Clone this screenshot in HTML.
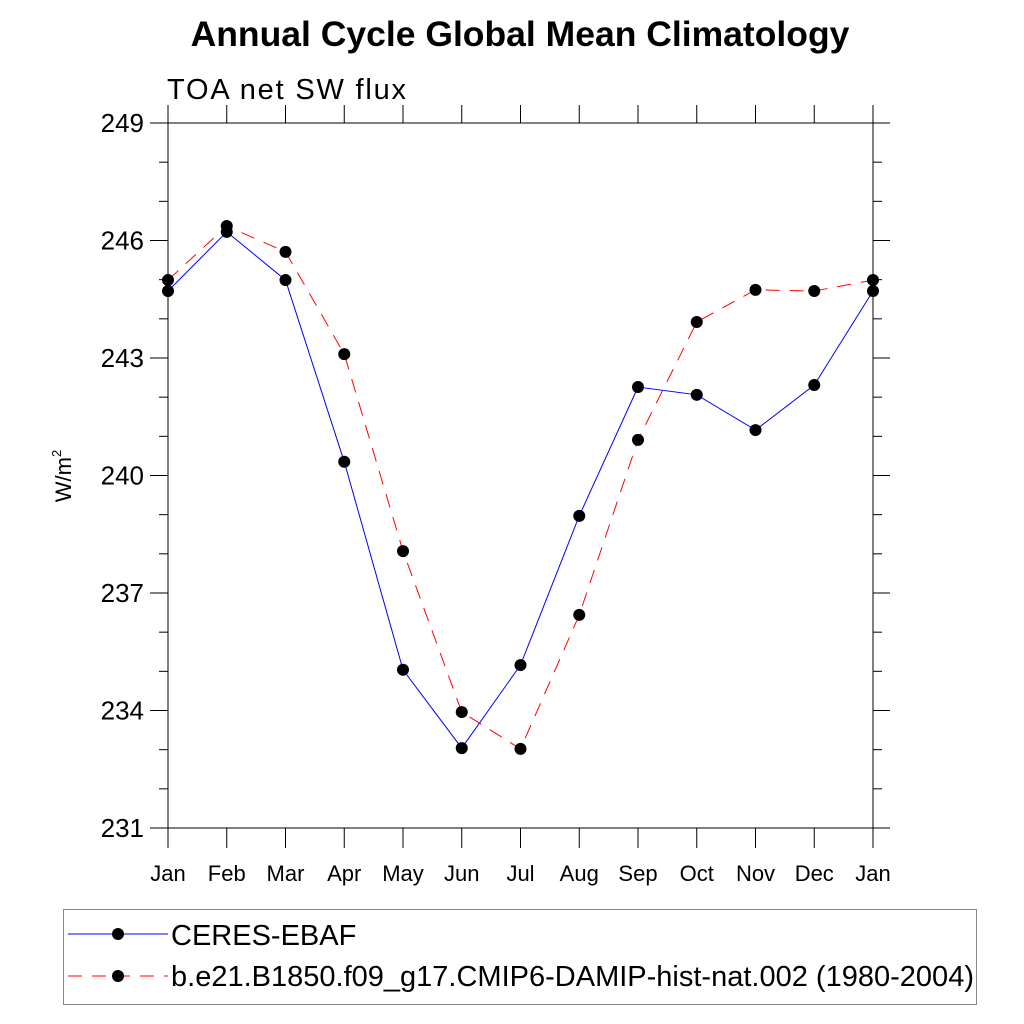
<!DOCTYPE html>
<html><head><meta charset="utf-8"><style>
html,body{margin:0;padding:0;background:#fff;}
svg{display:block;font-family:"Liberation Sans",sans-serif;}
</style></head><body>
<svg id="c" width="1024" height="1024" viewBox="0 0 1024 1024">
<text x="520" y="46" text-anchor="middle" font-size="35.5" font-weight="bold">Annual Cycle Global Mean Climatology</text>
<text x="167" y="99" font-size="29" textLength="239">TOA net SW flux</text>
<text transform="translate(71,476) rotate(-90)" text-anchor="middle" font-size="22">W/m<tspan dy="-10" font-size="13">2</tspan></text>
<g id="axes"></g>
<g id="series"></g>
<g>
<rect x="63.5" y="909.5" width="913" height="95" fill="none" stroke="#888" stroke-width="1"/>
<line x1="68" y1="934" x2="168" y2="934" stroke="#0000ff" stroke-width="1"/>
<circle cx="118" cy="934" r="6" fill="#000"/>
<text x="171" y="945" font-size="29">CERES-EBAF</text>
<line x1="68" y1="976" x2="168" y2="976" stroke="#ff0000" stroke-width="1" stroke-dasharray="14,10"/>
<circle cx="118" cy="976" r="6" fill="#000"/>
<text x="171" y="986" font-size="29" textLength="803">b.e21.B1850.f09_g17.CMIP6-DAMIP-hist-nat.002 (1980-2004)</text>
</g>
</svg>
<script>
const months = ["Jan","Feb","Mar","Apr","May","Jun","Jul","Aug","Sep","Oct","Nov","Dec","Jan"];
const ceres = [244.71,246.22,244.99,240.35,235.04,233.04,235.16,238.97,242.26,242.06,241.16,242.31,244.71];
const model = [244.99,246.37,245.71,243.10,238.07,233.96,233.02,236.44,240.91,243.92,244.74,244.71,244.99];
const yTicks = [231,234,237,240,243,246,249];
const yMin = 231, yMax = 249;
const X0 = 168, X1 = 873, Y0 = 828, Y1 = 123;
const NS = "http://www.w3.org/2000/svg";
const xs = i => X0 + (X1 - X0) * i / (months.length - 1);
const ys = v => Y0 - (Y0 - Y1) * (v - yMin) / (yMax - yMin);
const axes = document.getElementById('axes');
const ser = document.getElementById('series');
function mk(tag, attrs, parent){const e=document.createElementNS(NS,tag);for(const k in attrs)e.setAttribute(k,attrs[k]);parent.appendChild(e);return e;}
const frame = mk('rect',{x:X0,y:Y1,width:X1-X0,height:Y0-Y1,fill:'none',stroke:'#000','stroke-width':1},axes);


for(let v=yMin; v<=yMax; v++){
  const major = yTicks.includes(v);
  const y = ys(v);
  const l = mk('line',{x1:major?150:159,y1:y,x2:X0,y2:y,stroke:'#000','stroke-width':1},axes);
  
  
  const r = mk('line',{x1:X1,y1:y,x2:major?890:882,y2:y,stroke:'#000','stroke-width':1},axes);
  
  
  if(major){
    const t = mk('text',{x:144,y:y+9,'text-anchor':'end','font-size':26},axes);
    t.textContent = v;
    
    
  }
}
months.forEach((m,i)=>{
  const x = xs(i);
  const b = mk('line',{x1:x,y1:Y0,x2:x,y2:848,stroke:'#000','stroke-width':1},axes);
  
  
  const t = mk('line',{x1:x,y1:Y1,x2:x,y2:105,stroke:'#000','stroke-width':1},axes);
  
  
  const lb = mk('text',{x:x,y:881,'text-anchor':'middle','font-size':22},axes);
  lb.textContent = m;
  
  
});
function draw(vals,color,dash,name){
  const p = mk('polyline',{points:vals.map((v,i)=>xs(i)+','+ys(v)).join(' '),fill:'none',stroke:color,'stroke-width':1},ser);
  if(dash) p.setAttribute('stroke-dasharray',dash);
  
  
}
function dots(vals,name){
  vals.forEach((v,i)=>{
    const c = mk('circle',{cx:xs(i),cy:ys(v),r:6,fill:'#000'},ser);
    
    
  });
}
draw(ceres,'#0000ff',null,'ceres');
draw(model,'#ff0000','14,10','model');
dots(ceres,'ceres');
dots(model,'model');
</script>
</body></html>
